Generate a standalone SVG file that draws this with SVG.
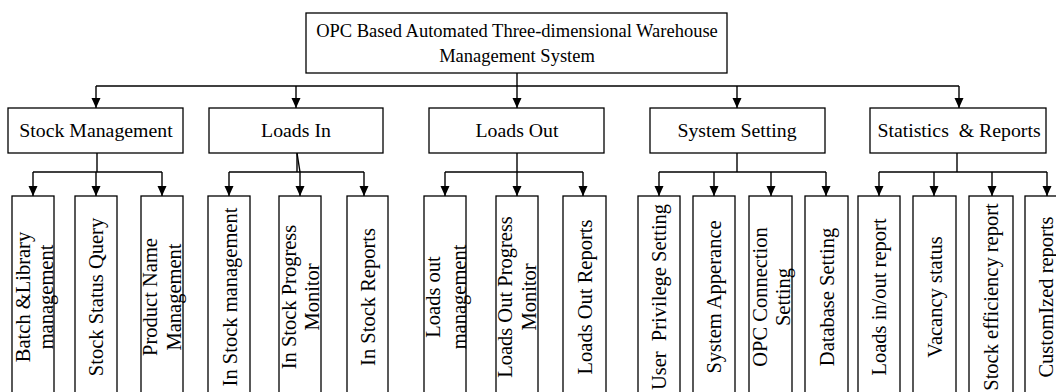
<svg xmlns="http://www.w3.org/2000/svg" width="1056" height="392" viewBox="0 0 1056 392">
<style>
  .box { fill: #fff; stroke: #000; stroke-width: 1.3; }
  .ln { fill: none; stroke: #000; stroke-width: 1.4; }
  .arr { fill: none; stroke: #000; stroke-width: 1.4; marker-end: url(#ah); }
  text { font-family: "Liberation Serif", "Times New Roman", serif; fill: #000; }
  .t0 { font-size: 18.5px; text-anchor: middle; }
  .t1 { font-size: 19.8px; text-anchor: middle; }
  .t2 { font-size: 20.5px; text-anchor: middle; }
</style>
<defs>
  <marker id="ah" markerUnits="userSpaceOnUse" markerWidth="10" markerHeight="10" refX="10" refY="4.5" orient="auto">
    <path d="M0,0 L10,4.5 L0,9 z" fill="#000"/>
  </marker>
</defs>
<rect width="1056" height="392" fill="#fff"/>

<g id="connectors">
  <line class="ln" x1="517" y1="73" x2="517" y2="86"/>
  <line class="ln" x1="96" y1="86" x2="959" y2="86"/>
  <line class="arr" x1="96" y1="86" x2="96" y2="108"/>
  <line class="arr" x1="296" y1="86" x2="296" y2="108"/>
  <line class="arr" x1="517" y1="86" x2="517" y2="108"/>
  <line class="arr" x1="737" y1="86" x2="737" y2="108"/>
  <line class="arr" x1="959" y1="86" x2="959" y2="108"/>

  <line class="ln" x1="97" y1="153" x2="97" y2="172"/>
  <line class="ln" x1="33" y1="172" x2="162" y2="172"/>
  <line class="arr" x1="33" y1="172" x2="33" y2="196"/>
  <line class="arr" x1="96" y1="172" x2="96" y2="196"/>
  <line class="arr" x1="162" y1="172" x2="162" y2="196"/>

  <line class="ln" x1="297" y1="153" x2="297" y2="172"/>
  <line class="ln" x1="297" y1="153" x2="300" y2="172"/>
  <line class="ln" x1="229" y1="172" x2="364" y2="172"/>
  <line class="arr" x1="229" y1="172" x2="229" y2="196"/>
  <line class="arr" x1="300" y1="172" x2="300" y2="196"/>
  <line class="arr" x1="364" y1="172" x2="364" y2="196"/>

  <line class="ln" x1="517" y1="153" x2="517" y2="172"/>
  <line class="ln" x1="445" y1="172" x2="583" y2="172"/>
  <line class="arr" x1="445" y1="172" x2="445" y2="196"/>
  <line class="arr" x1="517" y1="172" x2="517" y2="196"/>
  <line class="arr" x1="583" y1="172" x2="583" y2="196"/>

  <line class="ln" x1="737" y1="153" x2="737" y2="172"/>
  <line class="ln" x1="659" y1="172" x2="826" y2="172"/>
  <line class="arr" x1="659" y1="172" x2="659" y2="196"/>
  <line class="arr" x1="714" y1="172" x2="714" y2="196"/>
  <line class="arr" x1="771" y1="172" x2="771" y2="196"/>
  <line class="arr" x1="826" y1="172" x2="826" y2="196"/>

  <line class="ln" x1="957" y1="153" x2="957" y2="172"/>
  <line class="ln" x1="879" y1="172" x2="1047" y2="172"/>
  <line class="arr" x1="879" y1="172" x2="879" y2="196"/>
  <line class="arr" x1="934" y1="172" x2="934" y2="196"/>
  <line class="arr" x1="992" y1="172" x2="992" y2="196"/>
  <line class="arr" x1="1047" y1="172" x2="1047" y2="196"/>
</g>

<g id="root">
  <rect class="box" x="306" y="13" width="421" height="60"/>
  <text class="t0" x="517" y="37">OPC Based Automated Three-dimensional Warehouse</text>
  <text class="t0" x="517" y="62">Management System</text>
</g>

<g id="stock-management"><rect class="box" x="8" y="108" width="175" height="45"/><text class="t1" x="96" y="137">Stock Management</text></g>
<g id="loads-in"><rect class="box" x="209" y="108" width="174" height="45"/><text class="t1" x="296" y="137">Loads In</text></g>
<g id="loads-out"><rect class="box" x="429" y="108" width="175" height="45"/><text class="t1" x="517" y="137">Loads Out</text></g>
<g id="system-setting"><rect class="box" x="650" y="108" width="175" height="45"/><text class="t1" x="737" y="137">System Setting</text></g>
<g id="statistics-reports"><rect class="box" x="870" y="108" width="176" height="45"/><text class="t1" x="959" y="137" xml:space="preserve">Statistics  &amp; Reports</text></g>

<g id="batch-library"><rect class="box" x="12" y="196" width="42" height="210"/>
  <text class="t2" transform="translate(29.5,297) rotate(-90)">Batch &amp;Library</text>
  <text class="t2" transform="translate(52.5,297) rotate(-90)">management</text></g>
<g id="stock-status-query"><rect class="box" x="75" y="196" width="42" height="210"/>
  <text class="t2" transform="translate(103,297) rotate(-90)">Stock Status Query</text></g>
<g id="product-name"><rect class="box" x="141" y="196" width="42" height="210"/>
  <text class="t2" transform="translate(157,297) rotate(-90)">Product Name</text>
  <text class="t2" transform="translate(181,297) rotate(-90)">Management</text></g>
<g id="in-stock-management"><rect class="box" x="208" y="196" width="42" height="210"/>
  <text class="t2" transform="translate(236.5,297) rotate(-90)">In Stock management</text></g>
<g id="in-stock-progress"><rect class="box" x="279" y="196" width="42" height="210"/>
  <text class="t2" transform="translate(295.5,297) rotate(-90)">In Stock Progress</text>
  <text class="t2" transform="translate(319,297) rotate(-90)">Monitor</text></g>
<g id="in-stock-reports"><rect class="box" x="347" y="196" width="41" height="210"/>
  <text class="t2" transform="translate(374.5,297) rotate(-90)">In Stock Reports</text></g>
<g id="loads-out-management"><rect class="box" x="424" y="196" width="42" height="210"/>
  <text class="t2" transform="translate(440,297) rotate(-90)">Loads out</text>
  <text class="t2" transform="translate(466,297) rotate(-90)">management</text></g>
<g id="loads-out-progress"><rect class="box" x="496" y="196" width="42" height="210"/>
  <text class="t2" transform="translate(512,297) rotate(-90)">Loads Out Progress</text>
  <text class="t2" transform="translate(536,297) rotate(-90)">Monitor</text></g>
<g id="loads-out-reports"><rect class="box" x="563" y="196" width="43" height="210"/>
  <text class="t2" transform="translate(591.5,297) rotate(-90)">Loads Out Reports</text></g>
<g id="user-privilege"><rect class="box" x="638" y="196" width="42" height="210"/>
  <text class="t2" transform="translate(666,297) rotate(-90)" xml:space="preserve">User  Privilege Setting</text></g>
<g id="system-apperance"><rect class="box" x="693" y="196" width="42" height="210"/>
  <text class="t2" transform="translate(721,297) rotate(-90)">System Apperance</text></g>
<g id="opc-connection"><rect class="box" x="749" y="196" width="43" height="210"/>
  <text class="t2" transform="translate(767,297) rotate(-90)">OPC Connection</text>
  <text class="t2" transform="translate(789.5,297) rotate(-90)">Setting</text></g>
<g id="database-setting"><rect class="box" x="805" y="196" width="43" height="210"/>
  <text class="t2" transform="translate(834,297) rotate(-90)">Database Setting</text></g>
<g id="loads-inout-report"><rect class="box" x="858" y="196" width="42" height="210"/>
  <text class="t2" transform="translate(886,297) rotate(-90)">Loads in/out report</text></g>
<g id="vacancy-status"><rect class="box" x="913" y="196" width="43" height="210"/>
  <text class="t2" transform="translate(941.5,297) rotate(-90)">Vacancy status</text></g>
<g id="stock-efficiency"><rect class="box" x="969" y="196" width="44" height="210"/>
  <text class="t2" transform="translate(998,297) rotate(-90)">Stock efficiency report</text></g>
<g id="customized-reports"><rect class="box" x="1025" y="196" width="42" height="210"/>
  <text class="t2" transform="translate(1053,297) rotate(-90)">CustomIzed reports</text></g>
</svg>
